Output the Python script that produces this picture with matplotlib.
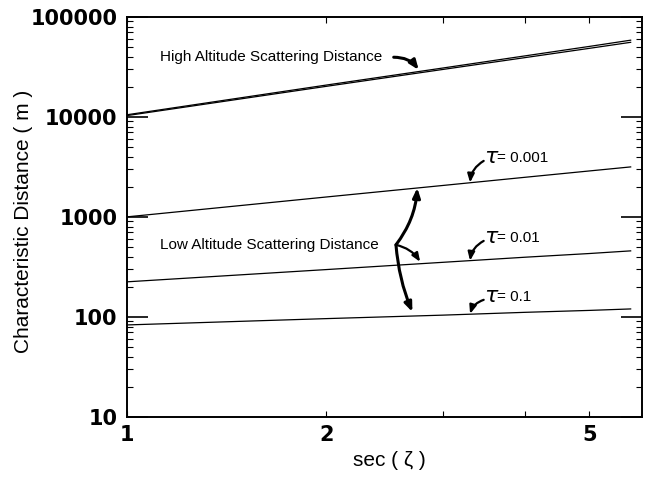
import matplotlib.pyplot as plt
from matplotlib.ticker import LogLocator, NullFormatter, FixedLocator

plt.rcParams['font.family'] = ['Liberation Sans', 'DejaVu Sans']

# sec(zenith) sample points
sec_z = [1.0, 2.0, 3.0, 4.0, 5.0, 5.77]

# Characteristic distances (m)
high_upper = [10500, 20800, 30800, 40800, 50700, 58500]
high_lower = [10300, 20200, 29800, 39200, 48500, 55700]
tau_001 = [1000, 1580, 2060, 2490, 2880, 3160]
tau_01 = [224, 297, 351, 395, 430, 457]
tau_1 = [83, 96, 104, 111, 116, 120]

xticks = [1, 2, 3, 4, 5]
xticklabels = ['1', '2', '', '', '5']
yticks = [10, 100, 1000, 10000, 100000]
yticklabels = ['10', '100', '1000', '10000', '100000']

fig = plt.figure(figsize=(6.51, 4.83), dpi=100)
ax = fig.add_axes([0.195, 0.137, 0.791, 0.828])

for ys in (high_upper, high_lower, tau_001, tau_01, tau_1):
    ax.plot(sec_z, ys, color='black', lw=0.9)

ax.set_xscale('log')
ax.set_yscale('log')
ax.set_xlim(1, 6.0)
ax.set_ylim(10, 100000)

ax.xaxis.set_major_locator(FixedLocator(xticks))
ax.set_xticklabels(xticklabels)
ax.xaxis.set_minor_locator(FixedLocator([]))
ax.xaxis.set_minor_formatter(NullFormatter())
ax.set_yticks(yticks)
ax.set_yticklabels(yticklabels)
ax.yaxis.set_minor_locator(LogLocator(base=10, subs=range(2, 10)))
ax.yaxis.set_minor_formatter(NullFormatter())

ax.tick_params(axis='y', which='major', direction='in', length=15, width=1.2,
               left=True, right=True, pad=7)
ax.tick_params(axis='y', which='minor', direction='in', length=4, width=0.8,
               left=True, right=True)
ax.tick_params(axis='x', which='major', direction='in', length=4, width=0.8,
               top=True, bottom=True, pad=6)
for lab in ax.get_xticklabels() + ax.get_yticklabels():
    lab.set_fontfamily('DejaVu Sans')
    lab.set_fontweight('bold')
    lab.set_fontsize(15)
for sp in ax.spines.values():
    sp.set_linewidth(1.4)

ax.set_ylabel('Characteristic Distance ( m )', fontsize=15)
ax.yaxis.set_label_coords(-0.182, 0.4875)
ax.set_xlabel('sec ( ζ )', fontsize=15)
ax.xaxis.set_label_coords(0.51, -0.085)

thick = dict(arrowstyle='-|>,head_length=0.55,head_width=0.22', color='black',
             lw=2.2, shrinkA=0, shrinkB=0)
thin = dict(arrowstyle='-|>,head_length=0.5,head_width=0.2', color='black',
            lw=1.6, shrinkA=0, shrinkB=0)

# high altitude label
ax.text(1.122, 39800, 'High Altitude Scattering Distance', fontsize=11,
        ha='left', va='center')
ax.annotate('', xy=(2.76, 29500), xytext=(2.53, 39500),
            arrowprops=dict(thick, connectionstyle='arc3,rad=-0.25'))

# low altitude label and its three arrows
ax.text(1.122, 525, 'Low Altitude Scattering Distance', fontsize=11,
        ha='left', va='center')
ax.annotate('', xy=(2.746, 1950), xytext=(2.55, 525),
            arrowprops=dict(thick, connectionstyle='arc3,rad=0.15'))
ax.annotate('', xy=(2.774, 355), xytext=(2.55, 525),
            arrowprops=dict(thin, connectionstyle='arc3,rad=-0.2'))
ax.annotate('', xy=(2.70, 112), xytext=(2.55, 525),
            arrowprops=dict(thick, connectionstyle='arc3,rad=0.08'))

# tau labels
for ytxt, yarr_s, yarr_e, val in [(3890, 3630, 2200, '0.001'),
                                  (617, 575, 364, '0.01'),
                                  (158, 148, 107, '0.1')]:
    ax.text(3.46, ytxt, r'$\tau$', fontsize=16, ha='left', va='center')
    ax.text(3.63, ytxt, '= ' + val, fontsize=11, ha='left', va='center')
    ax.annotate('', xy=(3.30, yarr_e), xytext=(3.46, yarr_s),
                arrowprops=dict(thin, connectionstyle='arc3,rad=0.25'))

fig.savefig('out.png', dpi=100)
